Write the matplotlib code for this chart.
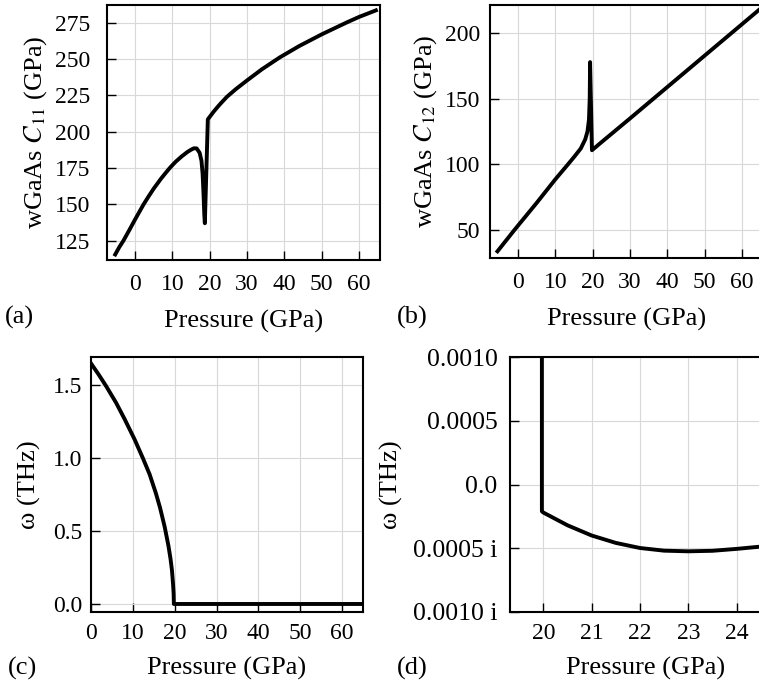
import numpy as np
import matplotlib
matplotlib.use("Agg")
import matplotlib.pyplot as plt

plt.rcParams['font.family'] = ['Liberation Serif', 'DejaVu Serif']
plt.rcParams['mathtext.fontset'] = 'stix'

# (a) C11 vs pressure
p_c11 = [-5.3, -4.2, -3.1, -1.5, 0, 1.2, 2.3, 3.6, 5, 6, 7, 8.2, 9.3, 10.2, 11, 12.5, 14,
         15, 15.8, 16.5, 17.3, 17.8, 18.1, 18.35, 18.55, 18.7,
         19.5, 20, 21, 22, 23, 24.6, 27, 30, 34, 38.8, 44, 50, 56.7, 60, 64.5]
c11 = [115.5, 120.6, 125, 132.4, 139.5, 145, 150, 155.3, 160.8, 164.3, 167.8, 171.6, 175,
       177.5, 179.6, 183, 186, 187.6, 188.6, 188.5, 185.5, 180, 171, 157, 143, 137,
       208.5, 210.2, 213.6, 216.7, 219.6, 224, 229.3, 235.3, 243, 251.2, 259, 267, 275.2,
       279, 283.5]

# (b) C12 vs pressure
p_c12 = [-5.5, -0.9, 5, 10, 13.4, 15, 16.8, 18, 18.6, 19.0, 19.2, 19.3, 19.8, 22, 30, 40,
         50, 60, 64.5]
c12 = [33.5, 50, 70.5, 88.5, 100, 105.5, 112, 119, 125, 134, 150, 178, 110.7, 116, 135, 159,
       183, 207, 217.8]

# (c) soft mode frequency
p_w = [0, 1.8, 3.6, 6, 8, 10.4, 12.4, 14, 15.5, 16.5, 17.6, 18.5, 19.0, 19.35, 19.6, 19.75,
       19.8, 30, 40, 50, 60, 65]
w = [1.65, 1.575, 1.495, 1.38, 1.27, 1.13, 1.0, 0.89, 0.76, 0.66, 0.53, 0.40, 0.31, 0.23,
     0.14, 0.07, 0.0, 0.0, 0.0, 0.0, 0.0, 0.0]

# (d) zoom around the transition (negative = imaginary)
p_d = [19.97, 19.97, 20.0, 20.5, 21, 21.5, 22, 22.5, 23, 23.5, 24, 24.5, 25]
w_d = [0.002, -0.00021, -0.00022, -0.00032, -0.00040, -0.000458, -0.000498, -0.000519,
       -0.000524, -0.00052, -0.000505, -0.000487, -0.000472]
d_ticks = [-0.001, -0.0005, 0.0, 0.0005, 0.001]
d_labels = ['0.0010 i', '0.0005 i', '0.0', '0.0005', '0.0010']

W, H = 759, 682
fig = plt.figure(figsize=(W / 100, H / 100), dpi=100)


def box(l, r, t, b):
    return [l / W, 1 - b / H, (r - l) / W, (b - t) / H]


def style(ax, xpad, ypad, xlabpad, ylabpad):
    ax.grid(True, color='#d8d8d8', lw=0.8)
    ax.set_axisbelow(True)
    ax.tick_params(direction='in', length=6.5, width=1.0, labelsize=17)
    ax.tick_params(axis='x', pad=xpad)
    ax.tick_params(axis='y', pad=ypad)
    for s in ax.spines.values():
        s.set_linewidth(1.5)
    ax.set_xlabel('Pressure (GPa)', fontsize=19, labelpad=xlabpad)
    ax.yaxis.labelpad = ylabpad


lw = 2.8

ax = fig.add_axes(box(107, 380, 5, 260))
ax.plot(p_c11, c11, color='black', lw=lw, solid_joinstyle='round')
ax.set_xlim(-7.5, 65.6)
ax.set_ylim(111.7, 287.2)
ax.set_xticks(range(0, 61, 10))
ax.set_yticks(range(125, 276, 25))
ax.set_ylabel('wGaAs $C_{11}$ (GPa)', fontsize=19)
style(ax, 10, 12, 11, 4)

ax = fig.add_axes(box(490, 763, 5, 258))
ax.plot(p_c12, c12, color='black', lw=lw, solid_joinstyle='round')
ax.set_xlim(-7.5, 65.6)
ax.set_ylim(28.4, 221.6)
ax.set_xticks(range(0, 61, 10))
ax.set_yticks(range(50, 201, 50))
ax.set_ylabel('wGaAs $C_{12}$ (GPa)', fontsize=19)
style(ax, 10, 7, 11, 4)

ax = fig.add_axes(box(91, 363, 357, 612))
ax.plot(p_w, w, color='black', lw=lw, solid_joinstyle='round')
ax.set_xlim(0, 65)
ax.set_ylim(-0.055, 1.694)
ax.set_xticks(range(0, 61, 10))
ax.set_yticks([0, 0.5, 1.0, 1.5])
ax.set_ylabel('ω (THz)', fontsize=19)
style(ax, 8, 6.5, 9, 8)

ax = fig.add_axes(box(510, 782, 357, 612))
ax.plot(p_d, w_d, color='black', lw=lw, solid_joinstyle='round')
ax.set_xlim(19.31, 24.94)
ax.set_ylim(-0.001, 0.001)
ax.set_xticks([20, 21, 22, 23, 24])
ax.set_yticks(d_ticks)
ax.set_yticklabels(d_labels)
ax.set_ylabel('ω (THz)', fontsize=19)
style(ax, 8, 9, 9, 7)
ax.tick_params(axis='y', labelsize=18.5)

for txt, x, y in [('(a)', 5, 317), ('(b)', 397, 317), ('(c)', 8, 668), ('(d)', 397, 668)]:
    fig.text(x / W, 1 - y / H, txt, fontsize=19, va='center', ha='left')

fig.savefig('out.png', dpi=100)
